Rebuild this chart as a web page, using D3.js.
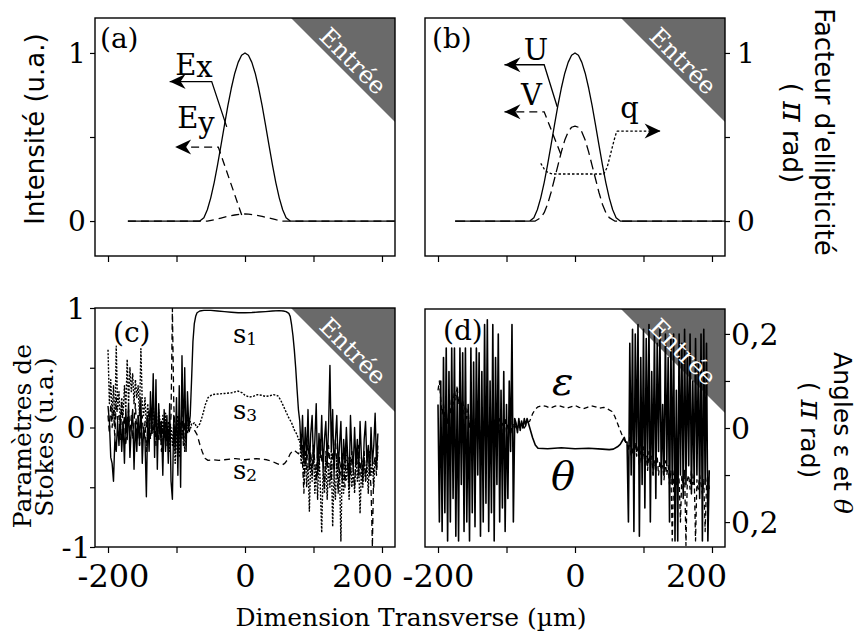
<!DOCTYPE html>
<html><head><meta charset="utf-8">
<script src="https://cdn.jsdelivr.net/npm/d3@7/dist/d3.min.js"></script>
<style>body{margin:0;background:#fff;} svg{display:block;}</style>
</head><body>
<svg id="chart" width="858" height="637"></svg>
<script>
// ================= DATA =================
const xTicks = [-200, -100, 0, 100, 200];
const xTickLabels = ["-200", "", "0", "", "200"];
const yTicksAB = [0, 0.5, 1];
const yLabelsAB = ["0", "", "1"];
const yTicksC = [-1, -0.5, 0, 0.5, 1];
const yLabelsC = ["-1", "", "0", "", "1"];
const yTicksD = [-0.2, -0.1, 0, 0.1, 0.2];
const yLabelsD = ["0,2", "", "0", "", "0,2"];

// (a) intensities
const exX = [-171,-66,-60,-55,-50,-45,-40,-35,-30,-25,-20,-15,-10,-5,0,5,10,15,20,25,30,35,40,45,50,55,60,66,219];
const exY = [0,0,0.02,0.067,0.138,0.229,0.336,0.452,0.571,0.686,0.79,0.878,0.944,0.986,1,0.986,0.944,0.878,0.79,0.686,0.571,0.452,0.336,0.229,0.138,0.067,0.02,0,0];
const eyX = [-171,-55,-45,-35,-25,-15,-5,0,5,15,25,35,45,55,219];
const eyY = [0,0,0.008,0.018,0.028,0.036,0.041,0.042,0.041,0.036,0.028,0.018,0.008,0,0];

// (b) U, V, q
const uX = [-175,-66,-60,-55,-50,-45,-40,-35,-30,-25,-20,-15,-10,-5,0,5,10,15,20,25,30,35,40,45,50,55,60,66,219];
const uY = [0,0,0.02,0.067,0.138,0.229,0.336,0.452,0.571,0.686,0.79,0.878,0.944,0.986,1,0.986,0.944,0.878,0.79,0.686,0.571,0.452,0.336,0.229,0.138,0.067,0.02,0,0];
const vX = [-175,-58,-50,-45,-40,-35,-30,-25,-20,-15,-10,-5,0,5,10,15,20,25,30,35,40,45,50,58,219];
const vY = [0,0,0.02,0.05,0.1,0.17,0.25,0.33,0.41,0.48,0.53,0.558,0.565,0.558,0.53,0.48,0.41,0.33,0.25,0.17,0.1,0.05,0.02,0,0];
const qX = [-50,-45,-40,-33,0,42,47,52,57,61];
const qY = [0.343,0.31,0.29,0.28,0.28,0.28,0.32,0.4,0.48,0.535];

// (c) Stokes parameters — noisy wings sampled every 2 µm
const cLeftX = d3.range(-200, -79, 2);   // -200 … -80
const cRightX = d3.range(80, 195, 2);    // 80 … 194
const s1Left = [0.18,0.05,-0.25,-0.3,-0.45,-0.1,-0.2,0.05,-0.15,0.1,
 -0.2,0.05,-0.3,0.15,-0.1,0.2,-0.25,0.0,0.15,-0.35,
 0.05,-0.2,0.1,-0.15,0.25,-0.3,0.0,-0.1,-0.58,0.1,
 -0.2,0.3,-0.05,0.45,-0.25,0.4,-0.35,0.2,-0.1,0.05,
 -0.4,0.15,-0.2,0.1,-0.3,0.2,-0.45,-0.6,0.1,-0.2,
 0.25,-0.4,0.35,-0.5,0.6,-0.1,0.5,-0.2,0.3,0.0,
 0.1];
const s1Mid = [[-78,0.4],[-76,0.72],[-74,0.87],[-72,0.93],[-70,0.96],[-66,0.975],[-60,0.98],[-50,0.98],[-40,0.975],[-30,0.97],[-20,0.965],[-10,0.96],[0,0.96],[10,0.962],[20,0.966],[30,0.97],[40,0.975],[50,0.978],[56,0.975],[60,0.97],[64,0.955],[66,0.93],[68,0.86],[70,0.77],[72,0.65],[74,0.5],[76,0.32],[78,0.15]];
const s1Right = [0.05,-0.2,0.1,-0.3,0.0,-0.25,0.15,-0.35,-0.05,0.1,
 -0.3,-0.1,0.2,-0.4,-0.05,-0.25,0.1,-0.35,-0.1,0.05,
 -0.3,0.0,0.52,-0.2,0.15,-0.4,-0.1,0.1,-0.35,-0.15,
 0.05,-0.45,-0.1,-0.3,0.0,-0.25,-0.5,0.1,-0.2,-0.35,
 0.0,-0.3,-0.1,-0.4,0.05,-0.25,-0.45,-0.1,0.05,-0.3,
 -0.15,-0.4,0.0,-0.3,-0.15,0.12,-0.3,-0.05];

const s3Left = [0.65,0.2,0.4,0.1,0.35,0.0,0.68,0.15,0.3,0.05,
 0.25,0.1,0.35,0.15,0.57,0.2,0.5,0.3,0.45,0.2,
 0.4,0.25,0.35,0.1,0.66,0.2,0.1,0.25,0.0,0.2,
 0.05,0.15,-0.05,0.2,0.0,0.1,-0.1,0.15,0.05,-0.15,
 0.1,-0.05,0.12,-0.1,0.05,-0.2,0.0,-0.15,0.05,-0.3,
 -0.1,0.1,-0.25,0.0,-0.1,0.05,-0.2,0.1,-0.05,0.0,
 0.05];
const s3Mid = [[-78,0.02],[-74,0.04],[-70,0.0],[-66,0.03],[-62,0.1],[-58,0.19],[-54,0.25],[-48,0.275],[-40,0.28],[-30,0.285],[-20,0.29],[-10,0.305],[-4,0.29],[0,0.27],[6,0.255],[12,0.26],[18,0.275],[24,0.27],[30,0.26],[36,0.265],[42,0.275],[48,0.265],[52,0.23],[56,0.18],[60,0.13],[64,0.08],[68,0.04],[72,-0.02],[76,-0.06],[78,-0.1]];
const s3Right = [-0.1,-0.3,-0.15,-0.45,-0.2,-0.5,-0.3,-0.7,-0.25,-0.45,
 -0.15,-0.55,-0.3,-0.6,-0.2,-0.5,-0.88,-0.35,-0.55,-0.25,
 -0.6,-0.3,-0.5,-0.2,-0.83,-0.4,-0.6,-0.25,-0.5,-0.35,
 -0.95,-0.3,-0.55,-0.2,-0.45,-0.3,-0.6,-0.25,-0.5,-0.35,
 -0.55,-0.2,-0.45,-0.3,-0.72,-0.35,-0.5,-0.25,-0.45,-0.3,
 -0.55,-0.2,-0.4,-0.3,-0.5,-0.25,-0.35,-0.2];

const s2Left = [0.1,-0.05,0.2,0.0,0.15,-0.1,0.25,0.05,0.1,-0.1,
 0.2,0.0,0.1,-0.15,0.05,0.15,-0.05,0.1,-0.1,0.05,
 0.2,-0.05,0.1,-0.15,0.0,0.1,-0.1,0.05,-0.2,0.0,
 0.15,-0.1,0.05,-0.05,0.1,-0.15,0.0,-0.1,0.05,-0.2,
 0.0,-0.1,0.05,-0.15,0.0,-0.1,0.1,1.0,0.2,-0.1,
 0.05,-0.2,0.1,-0.05,0.15,-0.15,0.05,-0.1,0.1,-0.05,
 0.0];
const s2Mid = [[-78,0.0],[-74,-0.02],[-70,-0.06],[-66,-0.14],[-62,-0.21],[-58,-0.26],[-54,-0.275],[-46,-0.27],[-38,-0.275],[-30,-0.27],[-22,-0.265],[-14,-0.26],[-6,-0.265],[0,-0.27],[8,-0.265],[16,-0.26],[24,-0.265],[32,-0.27],[40,-0.285],[46,-0.3],[50,-0.31],[54,-0.315],[58,-0.3],[62,-0.27],[66,-0.22],[70,-0.19],[74,-0.2],[78,-0.22]];
const s2Right = [-0.2,-0.15,-0.3,-0.55,-0.2,-0.35,-0.1,-0.3,-0.2,-0.4,
 -0.15,-0.3,-0.45,-0.2,-0.35,-0.1,-0.3,-0.25,-0.5,-0.2,
 -0.35,-0.15,-0.3,-0.45,-0.2,-0.35,-0.1,-0.3,-0.55,-0.25,
 -0.4,-0.2,-0.3,-0.5,-0.15,-0.35,-0.25,-0.4,-0.2,-0.35,
 -0.5,-0.25,-0.3,-0.15,-0.4,-0.25,-0.35,-0.2,-0.45,-0.3,
 -0.2,-0.35,-0.5,-1.0,-0.3,-0.25,-0.4,-0.15];

// (d) angles θ and ε
const dLeftX = d3.range(-200, -87, 2);   // -200 … -88
const dRightX = d3.range(76, 197, 2);    // 76 … 196
const thetaLeft = [0.05,-0.2,0.1,-0.22,0.15,-0.18,0.17,-0.24,0.12,-0.2,
 0.17,-0.15,0.17,-0.23,0.08,-0.24,0.17,-0.12,0.16,-0.22,
 0.17,-0.2,0.05,-0.24,0.17,-0.18,0.14,-0.21,0.17,-0.1,
 0.16,-0.23,0.12,-0.2,0.22,-0.16,0.23,-0.22,0.1,-0.18,
 0.22,-0.24,0.15,-0.12,0.2,-0.2,0.08,-0.17,0.12,-0.22,
 0.05,-0.15,0.1,-0.05,0.22,-0.2,0.02];
const thetaMid = [[-86,0.01],[-84,-0.01],[-82,0.02],[-80,-0.005],[-78,0.015],[-76,0.0],[-74,0.02],[-72,0.005],[-70,0.02],[-68,0.01],[-66,0.0],[-62,-0.02],[-58,-0.036],[-54,-0.043],[-40,-0.044],[-20,-0.042],[0,-0.044],[20,-0.043],[40,-0.045],[50,-0.046],[56,-0.045],[62,-0.04],[66,-0.035],[70,-0.025],[72,-0.02],[74,-0.03]];
const thetaRight = [-0.03,-0.2,0.18,-0.1,0.21,-0.22,0.2,-0.05,0.22,-0.23,
 0.15,-0.12,0.21,-0.17,0.19,-0.08,0.22,-0.2,0.12,-0.1,
 0.2,-0.15,0.18,-0.05,0.21,-0.12,0.05,-0.1,0.2,-0.08,
 0.15,-0.2,0.19,-0.12,0.2,-0.24,0.08,-0.24,0.2,-0.1,
 0.18,-0.15,0.21,-0.12,0.16,-0.08,0.2,-0.14,0.1,-0.12,
 0.19,-0.1,0.14,-0.15,0.2,-0.24,0.21,-0.12,0.18,-0.24,
 -0.09];
const epsLeft = [0.08,0.1,0.06,0.03,0.05,0.02,0.04,0.01,0.05,0.03,
 0.07,0.05,0.08,0.06,0.09,0.05,0.07,0.04,0.06,0.03,
 0.05,0.02,0.04,0.0,0.03,0.01,0.02,-0.01,0.02,0.0,
 0.01,-0.02,0.01,0.0,0.02,-0.01,0.01,0.0,0.02,-0.01,
 0.0,0.02,-0.01,0.01,0.0,0.02,-0.02,0.01,0.0,0.02,
 -0.01,0.01,0.0,0.015,-0.01,0.01,0.0];
const epsMid = [[-86,0.005],[-82,0.0],[-78,0.01],[-74,0.0],[-70,0.01],[-66,0.015],[-62,0.03],[-58,0.04],[-54,0.045],[-48,0.048],[-42,0.046],[-36,0.042],[-30,0.046],[-24,0.048],[-18,0.045],[-12,0.042],[-6,0.045],[0,0.048],[6,0.044],[12,0.041],[18,0.044],[24,0.047],[30,0.045],[36,0.042],[42,0.044],[48,0.04],[54,0.035],[58,0.025],[62,0.01],[66,-0.005],[70,-0.02],[74,-0.03]];
const epsRight = [-0.03,-0.05,-0.02,-0.06,-0.04,-0.07,-0.03,-0.06,-0.04,-0.08,
 -0.05,-0.07,-0.04,-0.08,-0.06,-0.09,-0.05,-0.08,-0.06,-0.1,
 -0.07,-0.09,-0.06,-0.1,-0.07,-0.09,-0.08,-0.11,-0.07,-0.1,
 -0.08,-0.12,-0.09,-0.24,-0.1,-0.08,-0.12,-0.09,-0.11,-0.2,
 -0.1,-0.13,-0.09,-0.25,-0.11,-0.1,-0.13,-0.09,-0.12,-0.1,
 -0.24,-0.11,-0.13,-0.1,-0.12,-0.14,-0.11,-0.22,-0.12,-0.1,
 -0.13];

// annotation leader lines (data units): [curve point, elbow, arrow tip]
const exLeader = [[-26.7,0.56],[-48.6,0.83],[-110,0.83]];
const eyLeader = [[-4.8,0.036],[-39,0.44],[-102,0.44]];
const uLeader = [[-26,0.68],[-45,0.93],[-103,0.93]];
const vLeader = [[-21,0.40],[-45,0.65],[-103,0.65]];
const qLeader = [[61,0.535],[125,0.535]];

// ================= HELPERS =================
const zip = (xs, ys) => xs.map((x, i) => [x, ys[i]]);
const joinSeries = (lx, l, mid, rx, r) => zip(lx, l).concat(mid, zip(rx, r));

const svg = d3.select("#chart");
svg.append("rect").attr("width", 858).attr("height", 637).attr("fill", "#fff");
const SERIF = "'DejaVu Serif', serif";
const SANS = "'DejaVu Sans', sans-serif";
const X_DOMAIN = [-219, 219];
const HEAD = "M0,0L-16,-7.5L-11,0L-16,7.5Z";

function panel(p) {
  const x = d3.scaleLinear().domain(X_DOMAIN).range([p.L, p.R]);
  const y = d3.scaleLinear().domain(p.yDom).range([p.B, p.T]);
  const g = svg.append("g");
  const clipId = "clip-" + p.name;
  svg.append("clipPath").attr("id", clipId).append("rect")
    .attr("x", p.L).attr("y", p.T).attr("width", p.R - p.L).attr("height", p.B - p.T);

  // "Entrée" corner triangle
  g.append("path").attr("d", `M${p.R - 104},${p.T}L${p.R},${p.T}L${p.R},${p.T + 104}Z`).attr("fill", "#6a6a6a");

  const line = d3.line().x(d => x(d[0])).y(d => y(d[1]));
  const lg = g.append("g").attr("clip-path", `url(#${clipId})`);
  p.series.forEach(s => {
    lg.append("path").attr("d", line(s.data)).attr("fill", "none")
      .attr("stroke", "#000").attr("stroke-width", s.w || 1.3)
      .attr("stroke-dasharray", s.dash || null).attr("stroke-linejoin", "round");
  });

  // leaders with arrow heads
  (p.leaders || []).forEach(a => {
    g.append("path").attr("d", line(a.pts)).attr("fill", "none").attr("stroke", "#000")
      .attr("stroke-width", 1.3).attr("stroke-dasharray", a.dash || null);
    const n = a.pts.length, t = a.pts[n - 1], pr = a.pts[n - 2];
    const ang = Math.atan2(y(t[1]) - y(pr[1]), x(t[0]) - x(pr[0])) * 180 / Math.PI;
    g.append("path").attr("d", HEAD).attr("fill", "#000")
      .attr("transform", `translate(${x(t[0])},${y(t[1])}) rotate(${ang})`);
  });

  // curve labels
  (p.labels || []).forEach(l => {
    const t = g.append("text").attr("x", x(l.x)).attr("y", y(l.y))
      .attr("font-family", SERIF).attr("font-size", l.fs)
      .attr("font-style", l.italic ? "italic" : null).attr("fill", "#000").text(l.t);
    if (l.sub) t.append("tspan").attr("font-size", l.subFs).attr("dy", l.subDy).text(l.sub);
  });

  // "Entrée" text
  g.append("text").attr("transform", `translate(${p.R - 42},${p.T + 43}) rotate(45)`)
    .attr("text-anchor", "middle").attr("dy", "0.35em").attr("font-family", SERIF)
    .attr("font-size", 24).attr("fill", "#fff").text("Entrée");

  // panel letter
  g.append("text").attr("x", p.L + p.lab[0]).attr("y", p.T + p.lab[1])
    .attr("font-family", SERIF).attr("font-size", 28).attr("fill", "#000").text(p.letter);

  // x axis
  const gx = g.append("g").attr("transform", `translate(0,${p.B})`)
    .call(d3.axisBottom(x).tickValues(xTicks).tickSize(6).tickSizeOuter(0)
      .tickFormat((d, i) => p.xLabels ? xTickLabels[i] : ""));
  gx.select(".domain").remove();
  gx.selectAll("line").attr("stroke", "#000").attr("stroke-width", 1.2);
  gx.selectAll("text").attr("font-family", SERIF).attr("font-size", 32).attr("fill", "#000")
    .attr("y", 40).attr("dy", 0).attr("dx", (d, i) => p.xDx[i]);

  // y axis
  const ya = (p.side === "left" ? d3.axisLeft(y) : d3.axisRight(y))
    .tickValues(p.yTicks).tickSize(5).tickSizeOuter(0).tickFormat((d, i) => p.yLabels[i]);
  const gy = g.append("g").attr("transform", `translate(${p.side === "left" ? p.L : p.R},0)`).call(ya);
  gy.select(".domain").remove();
  gy.selectAll("line").attr("stroke", "#000").attr("stroke-width", 1.2);
  gy.selectAll("text").attr("font-family", SERIF).attr("font-size", p.yFs).attr("fill", "#000")
    .attr("text-anchor", p.side === "left" ? "middle" : "start")
    .attr("x", p.yLabX - (p.side === "left" ? p.L : p.R)).attr("dy", "0.34em");

  // frame
  g.append("rect").attr("x", p.L).attr("y", p.T).attr("width", p.R - p.L).attr("height", p.B - p.T)
    .attr("fill", "none").attr("stroke", "#000").attr("stroke-width", 1.4);
}

panel({ name: "a", L: 95, T: 18, R: 395, B: 256, yDom: [-0.208, 1.208], side: "left",
  letter: "(a)", lab: [5, 30], yTicks: yTicksAB, yLabels: yLabelsAB, yFs: 28, yLabX: 77,
  xLabels: false, xDx: [0, 0, 0, 0, 0],
  series: [ { data: zip(exX, exY) }, { data: zip(eyX, eyY), dash: "8,5" } ],
  leaders: [ { pts: exLeader }, { pts: eyLeader, dash: "8,5" } ],
  labels: [ { t: "E", sub: "x", x: -102, y: 0.869, fs: 29, subFs: 29, subDy: 2 },
            { t: "E", sub: "y", x: -99, y: 0.553, fs: 29, subFs: 29, subDy: 5 } ] });

panel({ name: "b", L: 425, T: 18, R: 725, B: 256, yDom: [-0.208, 1.208], side: "right",
  letter: "(b)", lab: [7, 30], yTicks: yTicksAB, yLabels: yLabelsAB, yFs: 28, yLabX: 737,
  xLabels: false, xDx: [0, 0, 0, 0, 0],
  series: [ { data: zip(uX, uY) }, { data: zip(vX, vY), dash: "10,5" }, { data: zip(qX, qY), dash: "2.5,2" } ],
  leaders: [ { pts: uLeader }, { pts: vLeader, dash: "8,5" }, { pts: qLeader, dash: "2.5,2" } ],
  labels: [ { t: "U", x: -74.7, y: 0.958, fs: 29 }, { t: "V", x: -79, y: 0.69, fs: 29 },
            { t: "q", x: 66, y: 0.613, fs: 29 } ] });

panel({ name: "c", L: 95, T: 308, R: 395, B: 547, yDom: [-1, 1], side: "left",
  letter: "(c)", lab: [18, 34], yTicks: yTicksC, yLabels: yLabelsC, yFs: 30, yLabX: 76,
  xLabels: true, xDx: [5, 0, 0, 0, -20],
  series: [ { data: joinSeries(cLeftX, s3Left, s3Mid, cRightX, s3Right), dash: "2,1.5", w: 1.4 },
            { data: joinSeries(cLeftX, s2Left, s2Mid, cRightX, s2Right), dash: "6,4", w: 1.3 },
            { data: joinSeries(cLeftX, s1Left, s1Mid, cRightX, s1Right), w: 1.4 } ],
  labels: [ { t: "s", sub: "1", x: -17.5, y: 0.71, fs: 26, subFs: 17, subDy: 2 },
            { t: "s", sub: "3", x: -17.5, y: 0.067, fs: 26, subFs: 17, subDy: 2 },
            { t: "s", sub: "2", x: -17.5, y: -0.435, fs: 26, subFs: 17, subDy: 2 } ] });

panel({ name: "d", L: 425, T: 309, R: 725, B: 547, yDom: [-0.253, 0.253], side: "right",
  letter: "(d)", lab: [18, 31], yTicks: yTicksD, yLabels: yLabelsD, yFs: 30, yLabX: 731,
  xLabels: true, xDx: [0, 0, 0, 0, -16],
  series: [ { data: joinSeries(dLeftX, epsLeft, epsMid, dRightX, epsRight), dash: "5,3.5", w: 1.3 },
            { data: joinSeries(dLeftX, thetaLeft, thetaMid, dRightX, thetaRight), w: 1.6 } ],
  labels: [ { t: "ε", x: -33.7, y: 0.07, fs: 40, italic: true },
            { t: "θ", x: -35, y: -0.132, fs: 40, italic: true } ] });

// axis titles
function vText(x, yc, rot, txt, font, fs) {
  return svg.append("text").attr("transform", `translate(${x},${yc}) rotate(${rot})`)
    .attr("text-anchor", "middle").attr("font-family", font).attr("font-size", fs).attr("fill", "#000").text(txt);
}
vText(44, 129, -90, "Intensité (u.a.)", SANS, 26);
vText(815, 132, 90, "Facteur d'ellipticité", SANS, 26);
const pr1 = vText(783, 133, 90, "( ", SANS, 26);
pr1.append("tspan").attr("font-family", SERIF).attr("font-style", "italic").attr("font-size", 31).text("π");
pr1.append("tspan").text(" rad)");
vText(31, 436, -90, "Paramètres de", SERIF, 25);
vText(53, 437, -90, "Stokes (u.a.)", SERIF, 25);
const ang = vText(834, 433, 90, "Angles ε et ", SANS, 25);
ang.append("tspan").attr("font-family", SERIF).attr("font-style", "italic").text("θ");
const pr2 = vText(801, 430, 90, "( ", SANS, 25);
pr2.append("tspan").attr("font-family", SERIF).attr("font-style", "italic").attr("font-size", 30).text("π");
pr2.append("tspan").text(" rad)");
svg.append("text").attr("x", 411).attr("y", 626).attr("text-anchor", "middle")
  .attr("font-family", SERIF).attr("font-size", 25).attr("fill", "#000").text("Dimension Transverse (µm)");
</script>
</body></html>
